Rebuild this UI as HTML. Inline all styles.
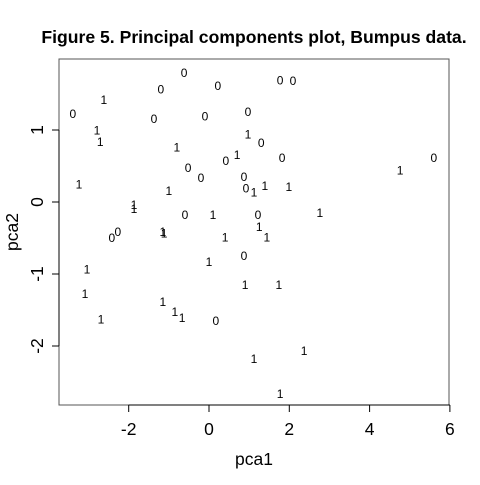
<!DOCTYPE html>
<html><head><meta charset="utf-8"><style>
body{margin:0;background:#fff}
svg text{font-family:"Liberation Sans",Arial,sans-serif}
</style></head><body>
<svg id="c" width="480" height="480"></svg>
<script>
const zeroX=[-3.39,-0.62,-1.20,0.22,-1.37,-0.10,0.97,1.77,2.09,1.30,1.82,0.42,-0.52,-0.20,0.87,0.92,1.22,-0.60,-2.27,-2.42,0.87,0.17,5.60];
const zeroY=[1.22,1.79,1.56,1.61,1.15,1.19,1.25,1.69,1.68,0.82,0.61,0.57,0.47,0.33,0.35,0.19,-0.18,-0.18,-0.42,-0.50,-0.75,-1.65,0.61];
const oneX=[-2.62,-2.79,-2.71,-0.80,0.70,0.97,-3.24,-1.00,1.12,1.39,1.99,4.76,-1.87,-1.87,-1.15,-1.12,0.10,2.76,1.25,0.40,1.44,0.00,-3.04,-3.09,-2.69,-1.15,-0.85,-0.67,0.90,1.74,1.12,2.37,1.77];
const oneY=[1.42,0.99,0.83,0.76,0.65,0.94,0.24,0.15,0.13,0.22,0.21,0.44,-0.04,-0.10,-0.42,-0.44,-0.18,-0.15,-0.35,-0.49,-0.49,-0.83,-0.94,-1.28,-1.63,-1.39,-1.53,-1.61,-1.15,-1.15,-2.18,-2.07,-2.67];
const xTicks=[-2,0,2,4,6];
const yTicks=[-2,-1,0,1];
const xs=v=>209+v*40.15, ys=v=>202-v*72;
const svg=document.getElementById('c');
const NS='http://www.w3.org/2000/svg';
function mk(t,a,txt){const e=document.createElementNS(NS,t);for(const k in a)e.setAttribute(k,a[k]);if(txt!==undefined)e.textContent=txt;svg.appendChild(e);return e;}
let e;
e=mk('text',{x:254,y:43,'text-anchor':'middle','font-size':'17.6','font-weight':'bold'},'Figure 5. Principal components plot, Bumpus data.');


e=mk('rect',{x:59,y:59,width:390,height:346,fill:'none',stroke:'#555','stroke-width':1});


e=mk('line',{x1:xs(-2),x2:xs(6),y1:405,y2:405,stroke:'#000'});


xTicks.forEach(t=>{
 e=mk('line',{x1:xs(t),x2:xs(t),y1:405,y2:412,stroke:'#000'});
 
 
 e=mk('text',{x:xs(t),y:435,'text-anchor':'middle','font-size':'17.5'},String(t));
 
 
});
e=mk('line',{x1:59,x2:59,y1:ys(-2),y2:ys(1),stroke:'#000'});


yTicks.forEach(t=>{
 e=mk('text',{x:43,y:ys(t),'text-anchor':'middle','font-size':'17.5',transform:`rotate(-90 43 ${ys(t)})`},String(t));
 
 
 e=mk('line',{x1:52,x2:59,y1:ys(t),y2:ys(t),stroke:'#000'});
 
 
});
e=mk('text',{x:254,y:465,'text-anchor':'middle','font-size':'17.5'},'pca1');


e=mk('text',{x:18,y:232,'text-anchor':'middle','font-size':'17.5',transform:'rotate(-90 18 232)'},'pca2');


zeroX.forEach((v,i)=>{
 e=mk('text',{x:xs(v),y:ys(zeroY[i])+4,'text-anchor':'middle','font-size':'12'},'0');
 
 
});
oneX.forEach((v,i)=>{
 e=mk('text',{x:xs(v),y:ys(oneY[i])+4,'text-anchor':'middle','font-size':'12'},'1');
 
 
});
</script>
</body></html>
